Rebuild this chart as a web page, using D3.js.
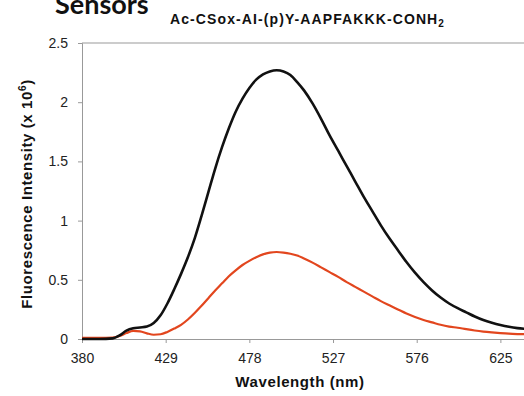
<!DOCTYPE html>
<html>
<head>
	<title>Sox sensor emission</title>
	<script src="https://d3js.org/d3.v7.min.js" charset="utf-8"></script>
	<style>
		body { margin: 0; background: #fff; }
		.tick text { font-family: "Liberation Sans", Arial, sans-serif; font-size: 14px; fill: #222; }
	</style>
</head>
<body>
	<script>
		// wavelength (nm) for each reading
		var wavelength = [380, 390, 398, 402, 406, 410, 414, 418, 422, 426, 430, 434, 438, 442, 446, 450, 454, 458, 462, 466,
			470, 474, 478, 482, 486, 490, 494, 498, 502, 506, 510, 515, 520, 525, 530, 535, 540, 545, 550, 555,
			560, 565, 570, 575, 580, 585, 590, 595, 600, 605, 610, 615, 620, 625, 630, 635, 640];

		// intensity x 10^6, black trace
		var blackSeries = [0, 0, 0.005, 0.03, 0.07, 0.09, 0.097, 0.105, 0.135, 0.2, 0.3, 0.42, 0.55, 0.69, 0.85, 1.04, 1.24, 1.44, 1.62, 1.78,
			1.92, 2.03, 2.12, 2.19, 2.235, 2.26, 2.27, 2.26, 2.23, 2.17, 2.1, 1.99, 1.86, 1.72, 1.59, 1.46, 1.33, 1.2, 1.08, 0.96,
			0.85, 0.75, 0.65, 0.56, 0.48, 0.41, 0.35, 0.3, 0.26, 0.225, 0.19, 0.16, 0.137, 0.118, 0.103, 0.092, 0.085];

		// intensity x 10^6, red trace
		var redSeries = [0.01, 0.01, 0.012, 0.025, 0.05, 0.068, 0.065, 0.048, 0.036, 0.04, 0.06, 0.088, 0.12, 0.165, 0.22, 0.28, 0.345, 0.41, 0.47, 0.53,
			0.58, 0.625, 0.66, 0.69, 0.715, 0.73, 0.735, 0.73, 0.72, 0.705, 0.68, 0.645, 0.605, 0.565, 0.525, 0.48, 0.44, 0.4, 0.36, 0.32,
			0.285, 0.25, 0.215, 0.185, 0.16, 0.14, 0.12, 0.105, 0.095, 0.083, 0.072, 0.063, 0.056, 0.05, 0.045, 0.042, 0.04];

		var xTicks = [380, 429, 478, 527, 576, 625];
		var yTicks = [0, 0.5, 1, 1.5, 2, 2.5];

		var svgWidth = 524,
			svgHeight = 396,
			svg = d3.select("body")
				.append("svg")
				.attr("width", svgWidth)
				.attr("height", svgHeight);

		var x = d3.scaleLinear()
				.domain([380, 640])
				.range([82, 526]),
			y = d3.scaleLinear()
				.domain([0, 2.5])
				.range([339, 43]);

		// headings
		svg.append("text")
			.attr("x", 55)
			.attr("y", 14)
			.attr("font-family", "Lato, sans-serif")
			.attr("font-weight", 700)
			.attr("font-size", 27)
			.attr("fill", "#111")
			.text("Sensors");

		var sub = svg.append("text")
			.attr("x", 170)
			.attr("y", 24)
			.attr("font-family", "Liberation Sans, Arial, sans-serif")
			.attr("font-weight", "bold")
			.attr("font-size", 14)
			.attr("letter-spacing", 1.1)
			.attr("fill", "#111");
		sub.append("tspan").text("Ac-CSox-AI-(p)Y-AAPFAKKK-CONH");
		sub.append("tspan").attr("font-size", 10).attr("dy", 3).text("2");

		// frame: top line
		svg.append("line")
			.attr("x1", x(380)).attr("x2", svgWidth)
			.attr("y1", y(2.5)).attr("y2", y(2.5))
			.attr("stroke", "#999");

		// axes
		var gx = svg.append("g")
			.attr("transform", "translate(0," + y(0) + ")")
			.call(d3.axisBottom(x).tickValues(xTicks).tickSize(4).tickPadding(10).tickFormat(d3.format("d")));

		var gy = svg.append("g")
			.attr("transform", "translate(" + x(380) + ",0)")
			.call(d3.axisLeft(y).tickValues(yTicks).tickSize(4).tickPadding(10).tickFormat(d3.format("")));

		[gx, gy].forEach(function(g) {
			g.select(".domain").attr("stroke", "#999");
			g.selectAll(".tick line").attr("stroke", "#999");
		});

		// traces
		var blackData = wavelength.map(function(w, i) { return [w, blackSeries[i]]; }),
			redData = wavelength.map(function(w, i) { return [w, redSeries[i]]; });

		var line = d3.line()
			.x(function(d) { return x(d[0]); })
			.y(function(d) { return y(d[1]); })
			.curve(d3.curveMonotoneX);

		svg.append("path")
			.datum(redData)
			.attr("fill", "none")
			.attr("stroke", "#e2461e")
			.attr("stroke-width", 2.2)
			.attr("d", line);

		svg.append("path")
			.datum(blackData)
			.attr("fill", "none")
			.attr("stroke", "#111")
			.attr("stroke-width", 2.6)
			.attr("d", line);

		// axis titles
		svg.append("text")
			.attr("x", (x(380) + 524) / 2 - 3)
			.attr("y", 387)
			.attr("text-anchor", "middle")
			.attr("font-family", "Liberation Sans, Arial, sans-serif")
			.attr("font-weight", "bold")
			.attr("font-size", 15)
			.attr("letter-spacing", 0.6)
			.attr("fill", "#111")
			.text("Wavelength (nm)");

		var yt = svg.append("text")
			.attr("transform", "translate(32,194) rotate(-90)")
			.attr("text-anchor", "middle")
			.attr("font-family", "Liberation Sans, Arial, sans-serif")
			.attr("font-weight", "bold")
			.attr("font-size", 15)
			.attr("letter-spacing", 0.6)
			.attr("fill", "#111");
		yt.append("tspan").text("Fluorescence Intensity (x 10");
		yt.append("tspan").attr("font-size", 10).attr("dy", -6).text("6");
		yt.append("tspan").attr("dy", 6).text(")");
	</script>
</body>
</html>
